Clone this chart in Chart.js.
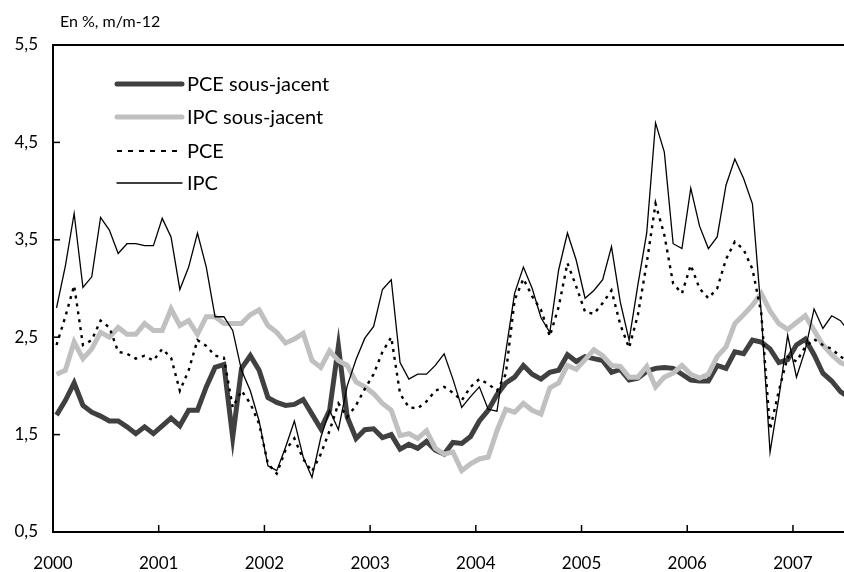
<!DOCTYPE html>
<html>
<head>
<meta charset="utf-8">
<script src="https://cdn.jsdelivr.net/npm/chart.js@4.4.0/dist/chart.umd.min.js"></script>
<style>
  body { margin: 0; background: #fff; }
  #wrap { width: 844px; height: 572px; }
</style>
</head>
<body>
<div id="wrap"><canvas id="infl" width="844" height="572"></canvas></div>
<script>
// monthly data, Jan 2000 -> Jul 2007 (y/y %)
var startYear = 2000;
var yearTicks = [2000, 2001, 2002, 2003, 2004, 2005, 2006, 2007];
var yTicks = [0.5, 1.5, 2.5, 3.5, 4.5, 5.5];

var pceCore = [1.70, 1.85, 2.03, 1.80, 1.73, 1.69, 1.64, 1.64, 1.58, 1.51, 1.58, 1.51,
  1.59, 1.67, 1.59, 1.75, 1.75, 1.99, 2.19, 2.22, 1.47, 2.18, 2.31, 2.16,
  1.88, 1.83, 1.80, 1.81, 1.86, 1.71, 1.56, 1.75, 2.41, 1.68, 1.46, 1.55,
  1.56, 1.47, 1.50, 1.35, 1.40, 1.36, 1.43, 1.34, 1.30, 1.42, 1.41, 1.48,
  1.64, 1.75, 1.91, 2.03, 2.09, 2.21, 2.12, 2.07, 2.14, 2.16, 2.32, 2.25,
  2.30, 2.28, 2.26, 2.14, 2.17, 2.06, 2.08, 2.15, 2.18, 2.19, 2.18, 2.12,
  2.06, 2.05, 2.05, 2.21, 2.18, 2.35, 2.33, 2.47, 2.45, 2.38, 2.24, 2.27,
  2.42, 2.48, 2.32, 2.13, 2.05, 1.94, 1.88];

var ipcCore = [2.12, 2.16, 2.45, 2.28, 2.38, 2.55, 2.50, 2.60, 2.53, 2.53, 2.64, 2.57,
  2.57, 2.79, 2.62, 2.67, 2.53, 2.71, 2.71, 2.64, 2.64, 2.64, 2.73, 2.78,
  2.62, 2.55, 2.44, 2.48, 2.54, 2.26, 2.19, 2.36, 2.26, 2.21, 2.04, 1.99,
  1.92, 1.82, 1.75, 1.49, 1.51, 1.46, 1.54, 1.36, 1.30, 1.32, 1.13, 1.20,
  1.25, 1.27, 1.54, 1.76, 1.73, 1.82, 1.75, 1.71, 1.98, 2.03, 2.21, 2.17,
  2.27, 2.37, 2.31, 2.21, 2.20, 2.09, 2.09, 2.20, 1.99, 2.09, 2.13, 2.21,
  2.12, 2.08, 2.12, 2.30, 2.40, 2.64, 2.73, 2.83, 2.95, 2.77, 2.64, 2.58,
  2.65, 2.72, 2.57, 2.42, 2.32, 2.24, 2.20];

var pce = [2.42, 2.71, 3.03, 2.42, 2.47, 2.67, 2.60, 2.35, 2.33, 2.28, 2.31, 2.26,
  2.38, 2.29, 1.95, 2.16, 2.47, 2.41, 2.31, 2.29, 1.78, 1.95, 1.82, 1.61,
  1.20, 1.10, 1.34, 1.46, 1.25, 1.12, 1.30, 1.54, 1.82, 1.68, 1.80, 1.97,
  2.12, 2.35, 2.50, 1.92, 1.78, 1.77, 1.84, 1.95, 1.99, 1.93, 1.85, 1.99,
  2.07, 2.02, 1.95, 2.12, 2.88, 3.10, 2.92, 2.78, 2.51, 2.81, 3.26, 3.02,
  2.76, 2.74, 2.85, 2.98, 2.63, 2.39, 2.73, 3.26, 3.87, 3.55, 3.05, 2.95,
  3.24, 3.00, 2.90, 3.00, 3.30, 3.48, 3.40, 3.20, 2.75, 1.55, 1.95, 2.30,
  2.25, 2.40, 2.48, 2.42, 2.38, 2.30, 2.25];

var ipc = [2.80, 3.23, 3.77, 3.01, 3.12, 3.73, 3.60, 3.36, 3.46, 3.46, 3.44, 3.44,
  3.72, 3.53, 2.99, 3.22, 3.57, 3.22, 2.71, 2.71, 2.57, 2.16, 1.95, 1.64,
  1.18, 1.13, 1.37, 1.64, 1.27, 1.06, 1.47, 1.75, 1.55, 2.00, 2.27, 2.49,
  2.61, 2.99, 3.09, 2.24, 2.07, 2.12, 2.12, 2.21, 2.33, 2.07, 1.78, 1.89,
  1.99, 1.76, 1.74, 2.35, 2.95, 3.22, 3.00, 2.70, 2.55, 3.19, 3.57, 3.29,
  2.90, 2.98, 3.09, 3.43, 2.86, 2.47, 3.04, 3.57, 4.70, 4.40, 3.46, 3.41,
  4.03, 3.64, 3.41, 3.53, 4.06, 4.33, 4.13, 3.87, 2.75, 1.32, 1.88, 2.52,
  2.09, 2.37, 2.79, 2.59, 2.72, 2.67, 2.55];

var seriesNames = ['PCE sous-jacent', 'IPC sous-jacent', 'PCE', 'IPC'];

// month index -> decimal date (mid-month)
function toPoints(arr) {
  return arr.map(function (v, i) {
    return { x: startYear + (i + 0.4) / 12, y: v };
  });
}

var FONT = 'Lato, "Open Sans", sans-serif';

var legendItems = [
  { label: seriesNames[0], color: '#404040', width: 5, dash: [] },
  { label: seriesNames[1], color: '#c0c0c0', width: 5, dash: [] },
  { label: seriesNames[2], color: '#000', width: 2, dash: [5, 6] },
  { label: seriesNames[3], color: '#000', width: 1.3, dash: [] }
];

var framePlugin = {
  id: 'frame',
  afterDraw: function (chart) {
    var c = chart.ctx, a = chart.chartArea;
    var xs = chart.scales.x, ys = chart.scales.y;
    c.save();
    c.strokeStyle = '#000';
    c.lineWidth = 2;
    // top border
    c.beginPath();
    c.moveTo(a.left, a.top);
    c.lineTo(a.right, a.top);
    c.stroke();
    // inward ticks
    c.lineWidth = 1.5;
    yearTicks.forEach(function (t) {
      var px = xs.getPixelForValue(t);
      c.beginPath();
      c.moveTo(px, a.bottom);
      c.lineTo(px, a.bottom - 7);
      c.stroke();
    });
    yTicks.forEach(function (t) {
      var py = ys.getPixelForValue(t);
      c.beginPath();
      c.moveTo(a.left, py);
      c.lineTo(a.left + 7, py);
      c.stroke();
    });
    // unit label
    c.fillStyle = '#000';
    c.font = '16px ' + FONT;
    c.textBaseline = 'middle';
    c.textAlign = 'left';
    c.fillText('En %, m/m-12', 60, 22);
    // legend
    var ly = [84, 117, 151, 183];
    c.font = '20px ' + FONT;
    legendItems.forEach(function (it, k) {
      c.strokeStyle = it.color;
      c.lineWidth = it.width;
      c.setLineDash(it.dash);
      c.lineCap = it.dash.length ? 'butt' : 'round';
      c.beginPath();
      c.moveTo(117, ly[k]);
      c.lineTo(182, ly[k]);
      c.stroke();
      c.setLineDash([]);
      c.fillText(it.label, 187, ly[k] + 1);
    });
    c.restore();
  }
};

var ctx = document.getElementById('infl');
var myChart = new Chart(ctx, {
  type: 'line',
  data: {
    datasets: [
      { label: seriesNames[3], data: toPoints(ipc), borderColor: '#000', borderWidth: 1.3, order: 0 },
      { label: seriesNames[2], data: toPoints(pce), borderColor: '#000', borderWidth: 2.4, borderDash: [3, 5], order: 1 },
      { label: seriesNames[1], data: toPoints(ipcCore), borderColor: '#c0c0c0', borderWidth: 5, order: 2 },
      { label: seriesNames[0], data: toPoints(pceCore), borderColor: '#404040', borderWidth: 5, order: 3 }
    ]
  },
  options: {
    responsive: false,
    devicePixelRatio: 1,
    animation: false,
    events: [],
    layout: { padding: { top: 45, left: 0, right: 0, bottom: 0 } },
    elements: {
      point: { radius: 0 },
      line: { tension: 0, borderJoinStyle: 'miter', fill: false }
    },
    plugins: { legend: { display: false }, tooltip: { enabled: false } },
    scales: {
      x: {
        type: 'linear',
        min: 2000,
        max: 2007.483,
        afterBuildTicks: function (s) {
          s.ticks = yearTicks.map(function (v) { return { value: v }; });
        },
        afterFit: function (s) { s.height = 40; },
        grid: { display: false, drawTicks: false },
        border: { display: true, color: '#000', width: 2 },
        ticks: {
          color: '#000',
          padding: 21,
          maxRotation: 0,
          font: { family: FONT, size: 17 },
          callback: function (v) { return String(v); }
        }
      },
      y: {
        min: 0.5,
        max: 5.5,
        afterBuildTicks: function (s) {
          s.ticks = yTicks.map(function (v) { return { value: v }; });
        },
        afterFit: function (s) { s.width = 53; },
        grid: { display: false, drawTicks: false },
        border: { display: true, color: '#000', width: 2 },
        ticks: {
          color: '#000',
          padding: 15,
          font: { family: FONT, size: 17 },
          callback: function (v) { return v.toFixed(1).replace('.', ','); }
        }
      }
    }
  },
  plugins: [framePlugin]
});
</script>
</body>
</html>
